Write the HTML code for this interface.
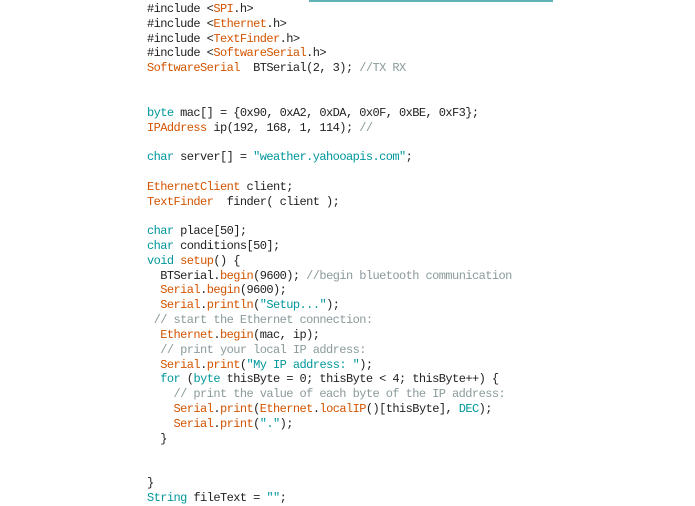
<!DOCTYPE html>
<html><head><meta charset="utf-8"><style>
html,body{margin:0;padding:0;background:#fff;width:695px;height:494px;overflow:hidden}
.bar{position:absolute;left:309px;top:0;width:244px;height:2px;background:#5fb3b3}
pre{position:absolute;left:147px;top:2px;margin:0;font-family:"Liberation Mono",monospace;font-size:12px;letter-spacing:-0.57px;line-height:14.81px;color:#222}
.o{color:#d35400}.t{color:#00979c}.c{color:#8a9a9b}
</style></head><body>
<div class="bar"></div>
<pre>#include &lt;<span class="o">SPI</span>.h&gt;
#include &lt;<span class="o">Ethernet</span>.h&gt;
#include &lt;<span class="o">TextFinder</span>.h&gt;
#include &lt;<span class="o">SoftwareSerial</span>.h&gt;
<span class="o">SoftwareSerial</span>  BTSerial(2, 3); <span class="c">//TX RX</span>


<span class="t">byte</span> mac[] = {0x90, 0xA2, 0xDA, 0x0F, 0xBE, 0xF3};
<span class="o">IPAddress</span> ip(192, 168, 1, 114); <span class="c">//</span>

<span class="t">char</span> server[] = <span class="t">"weather.yahooapis.com"</span>;

<span class="o">EthernetClient</span> client;
<span class="o">TextFinder</span>  finder( client );

<span class="t">char</span> place[50];
<span class="t">char</span> conditions[50];
<span class="t">void</span> <span class="o">setup</span>() {
  BTSerial.<span class="o">begin</span>(9600); <span class="c">//begin bluetooth communication</span>
  <span class="o">Serial</span>.<span class="o">begin</span>(9600);
  <span class="o">Serial</span>.<span class="o">println</span>(<span class="t">"Setup..."</span>);
 <span class="c">// start the Ethernet connection:</span>
  <span class="o">Ethernet</span>.<span class="o">begin</span>(mac, ip);
  <span class="c">// print your local IP address:</span>
  <span class="o">Serial</span>.<span class="o">print</span>(<span class="t">"My IP address: "</span>);
  <span class="t">for</span> (<span class="t">byte</span> thisByte = 0; thisByte &lt; 4; thisByte++) {
    <span class="c">// print the value of each byte of the IP address:</span>
    <span class="o">Serial</span>.<span class="o">print</span>(<span class="o">Ethernet</span>.<span class="o">localIP</span>()[thisByte], <span class="t">DEC</span>);
    <span class="o">Serial</span>.<span class="o">print</span>(<span class="t">"."</span>);
  }


}
<span class="t">String</span> fileText = <span class="t">""</span>;</pre>
</body></html>
